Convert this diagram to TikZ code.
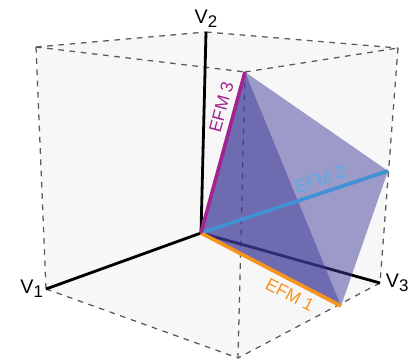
\documentclass[tikz,border=0pt]{standalone}
\usepackage{fontspec}
\setmainfont{Liberation Sans}
\usetikzlibrary{positioning}

\definecolor{boxgray}{RGB}{247,247,247}
\definecolor{edgegray}{RGB}{90,90,90}
\definecolor{conefill}{RGB}{63,59,153}
\definecolor{efmone}{RGB}{247,148,29}
\definecolor{efmtwo}{RGB}{66,146,214}
\definecolor{efmtwotext}{RGB}{84,174,230}
\definecolor{efmthree}{RGB}{163,35,143}
\newcommand{\vname}[1]{V\raisebox{-0.4ex}{\fontsize{12}{12}\selectfont #1}}

\begin{document}
\begin{tikzpicture}
    [x=0.025cm,y=-0.025cm,
cubeedge/.style={edgegray, dash pattern=on 4pt off 4pt, line width=0.9pt},axisline/.style={black, line width=2pt},efmline/.style={line width=2.6pt},
conepart/.style={fill=conefill, fill opacity=0.49},axislabel/.style={font=\fontsize{14}{16}\selectfont, inner sep=1pt},efmlabel/.style={font=\fontsize{12.5}{14}\selectfont, sloped, inner sep=4pt}
]

\useasboundingbox (0,0) rectangle (415,361);

% corners of the box
\coordinate (o) at (201,233);
\coordinate (v1) at (46,289);
\coordinate (v2) at (206,32);
\coordinate (v3) at (380,283);
\coordinate (v12) at (36,47);
\coordinate (v23) at (398,48);
\coordinate (v13) at (238,358);
\coordinate (v123) at (245,72);

% ends of the modes
\coordinate (p1) at (341,306);
\coordinate (p2) at (388,171);
\coordinate (p3) at (245,72);

\fill[boxgray] (v12) -- (v2) -- (v23) -- (v3) -- (v13) -- (v1) -- cycle;

\draw[cubeedge] (v12) -- (v2);
\draw[cubeedge] (v2) -- (v23);
\draw[cubeedge] (v12) -- (v123);
\draw[cubeedge] (v123) -- (v23);
\draw[cubeedge] (v12) -- (v1);
\draw[cubeedge] (v23) -- (v3);
\draw[cubeedge] (v123) -- (v13);
\draw[cubeedge] (v1) -- (v13);
\draw[cubeedge] (v3) -- (v13);

\draw[axisline] (o) -- (v1);
\draw[axisline] (o) -- (v2);
\draw[axisline] (o) -- (v3);

\node[axislabel](lab1)[left=1pt of v1]{\vname{1}};
\node[axislabel](lab2)[above=2pt of v2]{\vname{2}};
\node[axislabel](lab3)[right=3pt of v3]{\vname{3}};

\fill[conepart] (o) -- (p3) -- (p2) -- (p1) -- cycle;
\fill[conepart] (o) -- (p3) -- (p1) -- cycle;

\draw[efmline, efmtwo] (o) -- node[efmlabel, above, pos=0.66, text=efmtwotext](efm2){EFM 2} (p2);
\draw[efmline, efmone] (o) -- node[efmlabel, below, pos=0.68, text=efmone](efm1){EFM 1} (p1);
\draw[efmline, efmthree] (o) -- node[efmlabel, above, pos=0.76, text=efmthree](efm3){EFM 3} (p3);

\end{tikzpicture}
\end{document}
